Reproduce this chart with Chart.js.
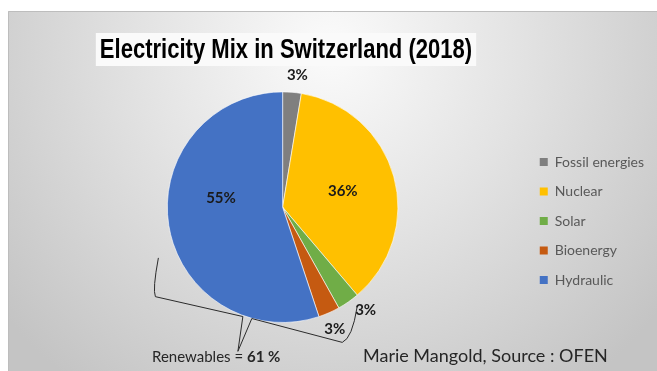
<!DOCTYPE html>
<html>
<head>
<meta charset="utf-8">
<script src="https://cdn.jsdelivr.net/npm/chart.js@4"></script>
<style>
  html,body{margin:0;padding:0;background:#fff;}
  #wrap{width:657px;height:371px;position:relative;}
</style>
</head>
<body>
<div id="wrap"><canvas id="chart-mix" width="657" height="371"></canvas></div>
<script>
/* données (OFEN 2018) */
var categories=['Fossil energies','Nuclear','Solar','Bioenergy','Hydraulic'];
var shares=[2.6,36.2,3.1,3.0,55.1];
var colors=['#7f7f7f','#ffc000','#70ad47','#c55a11','#4472c4'];
var chartTitle='Electricity Mix in Switzerland (2018)';
var noteLeft='Renewables = ', noteBold='61 %';
var noteRight='Marie Mangold, Source : OFEN';

var FONT='Lato, "Open Sans", sans-serif';

/* fond gris dégradé */
var bgPlugin={id:'bg',beforeDraw:function(c){
  var ctx=c.ctx;ctx.save();
  ctx.fillStyle='#fff';ctx.fillRect(0,0,c.width,c.height);
  var g=ctx.createRadialGradient(330,50,0,330,50,420);
  g.addColorStop(0,'#fbfbfb');g.addColorStop(0.45,'#e3e3e3');g.addColorStop(1,'#c4c4c4');
  ctx.fillStyle=g;ctx.fillRect(8,11,c.width-8,c.height-11);
  ctx.strokeStyle='#bdbdbd';ctx.lineWidth=1;
  ctx.beginPath();ctx.moveTo(8.5,c.height);ctx.lineTo(8.5,11.5);ctx.lineTo(c.width,11.5);ctx.stroke();
  ctx.restore();
}};

/* titre (police étroite simulée), étiquettes %, accolade "Renewables" */
var labelPlugin={id:'pctLabels',afterDatasetsDraw:function(c,args,opts){
  var ctx=c.ctx,meta=c.getDatasetMeta(0);ctx.save();
  // titre
  ctx.font='bold 28px "Liberation Sans", Arial, sans-serif';
  var tw=ctx.measureText(chartTitle).width*0.787, tx=286, ty=50;
  ctx.fillStyle='#fafafa';ctx.fillRect(tx-tw/2-4,33,tw+8,33);
  ctx.save();ctx.translate(tx,ty);ctx.scale(0.787,1);
  ctx.fillStyle='#000';ctx.textAlign='center';ctx.textBaseline='middle';ctx.fillText(chartTitle,0,0);
  ctx.restore();
  // pourcentages
  ctx.font='bold 15px '+FONT;ctx.fillStyle='#1a1a1a';ctx.textAlign='center';ctx.textBaseline='middle';
  var cx=0,cy=0,R=0;
  meta.data.forEach(function(arc,i){
    var p=arc.getProps(['x','y','startAngle','endAngle','outerRadius'],true);
    cx=p.x;cy=p.y;R=p.outerRadius;
    var v=shares[i],mid=(p.startAngle+p.endAngle)/2+(opts.shift[i]||0);
    var f=v>10?opts.inside:opts.outside;
    ctx.fillText(Math.round(v)+'%',p.x+Math.cos(mid)*R*f,p.y+Math.sin(mid)*R*f);
  });
  // accolade dessinée à la main, relative au centre du camembert
  var s=R/116;
  function P(dx,dy){return [cx+dx*s,cy+dy*s];}
  ctx.strokeStyle='#2b2b2b';ctx.lineWidth=1;ctx.beginPath();
  var a=P(-125,51),b=P(-131,83),b2=P(-128,90),cc=P(-40,110),d=P(-45,145),e=P(-31,112),f=P(60,136),g=P(70,132),h=P(75,100);
  ctx.moveTo(a[0],a[1]);ctx.quadraticCurveTo(b[0],b[1],b2[0],b2[1]);
  ctx.lineTo(cc[0],cc[1]);ctx.lineTo(d[0],d[1]);ctx.lineTo(e[0],e[1]);ctx.lineTo(f[0],f[1]);
  ctx.quadraticCurveTo(g[0],g[1],h[0],h[1]);ctx.stroke();
  // textes du bas
  ctx.textAlign='left';ctx.textBaseline='alphabetic';ctx.fillStyle='#262626';
  ctx.font='15px '+FONT;ctx.fillText(noteLeft,152,362);
  var w=ctx.measureText(noteLeft).width;
  ctx.font='bold 15px '+FONT;ctx.fillText(noteBold,152+w,362);
  ctx.font='18px '+FONT;ctx.fillText(noteRight,363,362);
  ctx.restore();
}};

var baseLabels=Chart.overrides.pie.plugins.legend.labels.generateLabels;

new Chart(document.getElementById('chart-mix'),{
  type:'pie',
  data:{labels:categories,datasets:[{data:shares,backgroundColor:colors,borderColor:'rgba(255,255,255,0.6)',borderWidth:1}]},
  options:{
    responsive:false,animation:false,
    layout:{padding:{top:91.4,left:41,right:3,bottom:48}},
    plugins:{
      title:{display:false},
      legend:{position:'right',fullSize:false,align:'center',
        title:{display:true,text:' ',font:{size:10,lineHeight:1.2},padding:{top:8,bottom:7.6}},
        labels:{boxWidth:8,boxHeight:8,padding:15.5,color:'#595959',font:{family:FONT,size:14},
          generateLabels:function(c){return baseLabels(c).map(function(l){l.lineWidth=0;l.strokeStyle='rgba(0,0,0,0)';return l;});}}},
      tooltip:{enabled:false},
      pctLabels:{inside:0.54,outside:1.15,shift:[0.03,0.01,-0.07,0.01,0.3]}
    }
  },
  plugins:[bgPlugin,labelPlugin]
});
</script>
</body>
</html>
